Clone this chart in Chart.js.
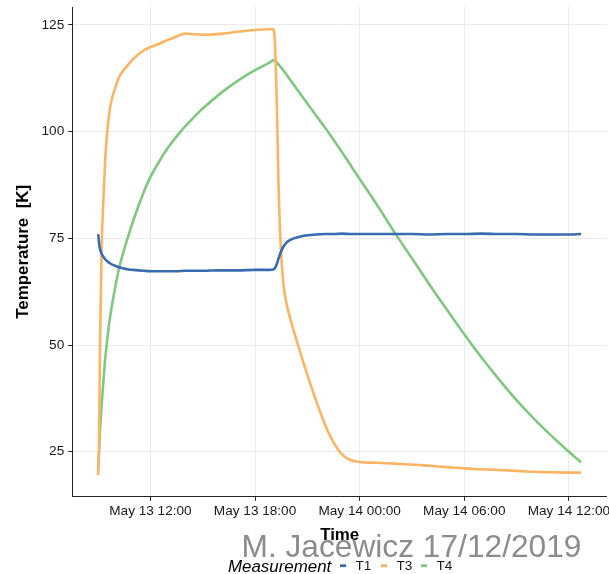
<!DOCTYPE html>
<html>
<head>
<meta charset="utf-8">
<title>Temperature</title>
<script src="https://cdn.jsdelivr.net/npm/chart.js@4.4.1/dist/chart.umd.min.js"></script>
<style>
  html, body { margin: 0; padding: 0; background: #fff; }
  #wrap { width: 609px; height: 574px; position: relative; }
</style>
</head>
<body>
<div id="wrap"><canvas id="temps"></canvas></div>
<script>
// sample times, hours since May 13 00:00
const hours = [9.0, 9.05, 9.1, 9.2, 9.3, 9.4, 9.5, 9.7, 10.0, 10.2, 10.5, 10.75, 11.0, 11.6,
  12, 12.5, 13, 13.5, 14, 14.5, 15, 16, 17, 18, 18.8,
  19.05, 19.15, 19.25, 19.35, 19.5, 19.65, 19.8, 20.0, 20.5, 21, 21.5, 22, 22.5, 23, 23.5, 24,
  25, 26, 27, 28, 29, 30, 31, 32, 33, 34, 35, 36, 36.7];

const t1 = [76.0, 74.0, 72.6, 71.4, 70.7, 70.1, 69.7, 69.1, 68.5, 68.2, 67.9, 67.7, 67.6, 67.4,
  67.3, 67.3, 67.3, 67.3, 67.4, 67.4, 67.4, 67.5, 67.5, 67.6, 67.6,
  67.7, 68.1, 69.0, 70.3, 72.0, 73.2, 74.0, 74.6, 75.3, 75.7, 75.9, 76.0, 76.0, 76.1, 76.0, 76.0,
  76.0, 76.0, 76.0, 75.9, 76.0, 76.0, 76.1, 76.0, 76.0, 75.9, 75.9, 75.9, 76.0];

const t3 = [19.5, 28, 48, 73, 84, 93, 99, 106, 110.5, 112.8, 114.6, 115.8, 117.0, 119.0,
  119.8, 120.6, 121.5, 122.3, 123.0, 122.8, 122.7, 122.9, 123.4, 123.8, 124.0,
  124.0, 120, 106, 87, 71, 63.5, 59.8, 56.5, 49.5, 43, 37, 31.5, 27.2, 24.3, 23.0, 22.6,
  22.4, 22.2, 22.0, 21.7, 21.4, 21.1, 20.9, 20.7, 20.5, 20.3, 20.2, 20.1, 20.1];

const t4 = [21.2, 24.5, 29.5, 36, 41.5, 46.5, 50.5, 57, 64, 68, 72.5, 75.8, 79, 85.7,
  89.4, 93, 96.2, 98.9, 101.3, 103.4, 105.4, 108.9, 111.9, 114.4, 116.1,
  116.7, 116.6, 116.2, 115.7, 115.0, 114.2, 113.4, 112.2, 109.4, 106.6, 103.8, 101.0, 98.1, 95.1, 92.0, 88.9,
  82.8, 76.4, 70.3, 64.2, 58.3, 52.5, 47.0, 41.9, 37.1, 32.7, 28.7, 25.0, 22.5];

const seriesNames = ['T1', 'T3', 'T4'];
const seriesColors = ['#386CB0', '#FDB462', '#7FC97F'];

const tickHours = [12, 18, 24, 30, 36];
const tickLabels = ['May 13 12:00', 'May 13 18:00', 'May 14 00:00', 'May 14 06:00', 'May 14 12:00'];
const tempTicks = [25, 50, 75, 100, 125];

const FONT = '"Liberation Sans", Arial, Helvetica, sans-serif';
Chart.defaults.font.family = FONT;

function toPoints(values) {
  return values.map((v, i) => ({ x: hours[i], y: v }));
}

// watermark under everything, legend row along the bottom
const annotate = {
  id: 'annotate',
  beforeDraw(chart) {
    const ctx = chart.ctx;
    ctx.save();
    ctx.font = '31.7px ' + FONT;
    ctx.fillStyle = '#8c8c8c';
    ctx.textBaseline = 'alphabetic';
    ctx.fillText('M. Jacewicz 17/12/2019', 241.5, 557);
    ctx.restore();
  },
  afterDraw(chart) {
    const ctx = chart.ctx;
    ctx.save();
    ctx.textBaseline = 'alphabetic';
    ctx.fillStyle = '#000';
    ctx.font = 'italic 16.9px ' + FONT;
    ctx.fillText('Measurement', 228, 572);
    ctx.font = '13.6px ' + FONT;
    const keyX = [340, 381, 421];
    chart.data.datasets.forEach((ds, i) => {
      ctx.fillStyle = ds.borderColor;
      ctx.fillRect(keyX[i], 564.3, 6, 2.8);
      ctx.fillStyle = '#1a1a1a';
      ctx.fillText(ds.label, keyX[i] + 15.5, 570);
    });
    ctx.restore();
  }
};

new Chart(document.getElementById('temps'), {
  type: 'line',
  data: {
    datasets: [t1, t3, t4].map((vals, i) => ({
      label: seriesNames[i],
      data: toPoints(vals),
      borderColor: seriesColors[i],
      backgroundColor: seriesColors[i],
      borderWidth: 2.6,
      pointRadius: 0,
      cubicInterpolationMode: 'monotone',
      fill: false
    }))
  },
  options: {
    responsive: true,
    maintainAspectRatio: false,
    animation: false,
    devicePixelRatio: 1,
    layout: { padding: { left: 0, right: 2.3, top: 7, bottom: 0 } },
    plugins: {
      legend: { display: false },
      tooltip: { enabled: false }
    },
    scales: {
      x: {
        type: 'linear',
        position: 'bottom',
        min: 7.54,
        max: 38.17,
        afterBuildTicks: (s) => { s.ticks = tickHours.map(v => ({ value: v })); },
        afterFit: (s) => { s.height = 77.3; s.paddingLeft = 0; s.paddingRight = 0; },
        ticks: {
          autoSkip: false,
          maxRotation: 0,
          padding: 2,
          color: '#1a1a1a',
          font: { size: 13.6 },
          callback: (v, i) => tickLabels[i]
        },
        grid: { color: '#ebebeb', lineWidth: 1, tickColor: '#222', tickLength: 4 },
        border: { color: '#222', width: 1 },
        title: {
          display: true,
          text: 'Time',
          color: '#000',
          font: { size: 16.9, weight: 'bold' },
          padding: { top: 0, bottom: 29 }
        }
      },
      y: {
        type: 'linear',
        min: 14.46,
        max: 129.2,
        afterBuildTicks: (s) => { s.ticks = tempTicks.map(v => ({ value: v })); },
        afterFit: (s) => { s.width = 72.7; s.paddingTop = 0; s.paddingBottom = 0; },
        ticks: {
          padding: 4,
          color: '#1a1a1a',
          font: { size: 13.6 }
        },
        grid: { color: '#ebebeb', lineWidth: 1, tickColor: '#222', tickLength: 4.5 },
        border: { color: '#222', width: 1 },
        title: {
          display: true,
          text: 'Temperature  [K]',
          color: '#000',
          font: { size: 16.9, weight: 'bold' },
          padding: { top: 13.5, bottom: 0 }
        }
      }
    }
  },
  plugins: [annotate]
});
</script>
</body>
</html>
